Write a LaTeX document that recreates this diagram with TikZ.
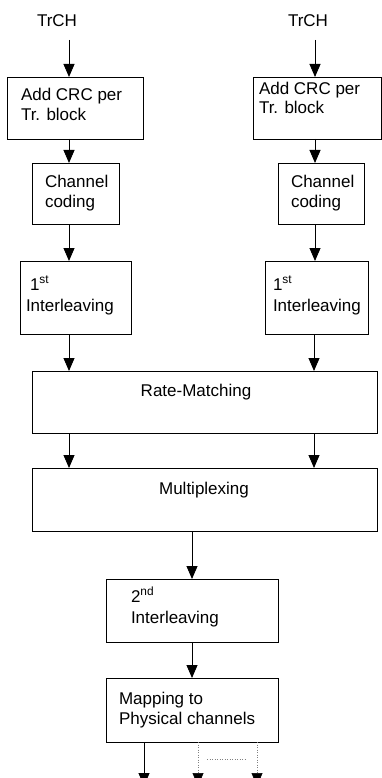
\documentclass[tikz,border=0pt]{standalone}
\usepackage{fontspec}
\setmainfont{Liberation Sans}
\usetikzlibrary{arrows.meta}
\begin{document}
\begin{tikzpicture}[x=1pt,y=-1pt,
  box/.style={draw, line width=0.9pt, rectangle, inner sep=0pt, outer sep=0pt, anchor=north west},
  txt/.style={inner sep=0pt, outer sep=0pt, anchor=base west, font=\fontsize{17}{20}\selectfont},
  ctxt/.style={inner sep=0pt, outer sep=0pt, anchor=base, font=\fontsize{17}{20}\selectfont},
  arr/.style={line width=0.9pt, -{Triangle[length=13pt,width=11pt]}},
  darr/.style={line width=0.5pt, gray, dotted, -{Triangle[length=13pt,width=11pt,color=black]}},
  dline/.style={line width=0.5pt, gray, dotted}]
\useasboundingbox (0,0) rectangle (382,778);
% columns
\coordinate (colL) at (69,0);
\coordinate (colR) at (315,0);
\coordinate (colRb) at (314,0);
\coordinate (colM) at (192,0);
% boxes
\node[box, minimum width=136pt, minimum height=62pt] (b1L) at (7,77) {};
\node[box, minimum width=128pt, minimum height=62pt] (b1R) at (253,77) {};
\node[box, minimum width=87pt, minimum height=61pt] (b2L) at (32,163) {};
\node[box, minimum width=86pt, minimum height=61pt] (b2R) at (278,163) {};
\node[box, minimum width=111pt, minimum height=73pt] (b3L) at (20,261) {};
\node[box, minimum width=103pt, minimum height=73pt] (b3R) at (265,261) {};
\node[box, minimum width=345pt, minimum height=62pt] (rm) at (32,371) {};
\node[box, minimum width=345pt, minimum height=63pt] (mux) at (32,468) {};
\node[box, minimum width=172pt, minimum height=63pt] (il2) at (106,579) {};
\node[box, minimum width=172pt, minimum height=64pt] (map) at (106,678) {};
% texts
\node[txt] (trL) at (37,27) {TrCH};
\node[txt] (trR) at (288,27) {TrCH};
\node[txt] (t1La) at (21,101) {Add CRC per};
\node[txt] (t1Lb) at (21,121) {Tr. block};
\node[txt] (t1Ra) at (259,95) {Add CRC per};
\node[txt] (t1Rb) at (259,114) {Tr. block};
\node[txt] (t2La) at (45,187) {Channel};
\node[txt] (t2Lb) at (45,207) {coding};
\node[txt] (t2Ra) at (291,187) {Channel};
\node[txt] (t2Rb) at (291,207) {coding};
\node[txt] (t3La) at (30,290) {1\textsuperscript{st}};
\node[txt] (t3Lb) at (26,311) {Interleaving};
\node[txt] (t3Ra) at (273,290) {1\textsuperscript{st}};
\node[txt] (t3Rb) at (273,311) {Interleaving};
\node[ctxt] (trm) at (196,396) {Rate-Matching};
\node[ctxt] (tmux) at (204,494) {Multiplexing};
\node[txt] (til2a) at (131,602) {2\textsuperscript{nd}};
\node[txt] (til2b) at (131,623) {Interleaving};
\node[txt] (tmapa) at (119,704) {Mapping to};
\node[txt] (tmapb) at (119,724) {Physical channels};
% free ends
\coordinate (sL) at (69,40);
\coordinate (sR) at (315,40);
\coordinate (e1) at (144,786);
\coordinate (e2) at (198,786);
\coordinate (e3) at (257,786);
\coordinate (d1) at (207,759);
\coordinate (d2) at (246,759);
% connectors
\draw[arr] (sL) -- (b1L.north -| colL);
\draw[arr] (sR) -- (b1R.north -| colR);
\draw[arr] (b1L.south -| colL) -- (b2L.north -| colL);
\draw[arr] (b1R.south -| colR) -- (b2R.north -| colR);
\draw[arr] (b2L.south -| colL) -- (b3L.north -| colL);
\draw[arr] (b2R.south -| colR) -- (b3R.north -| colR);
\draw[arr] (b3L.south -| colL) -- (rm.north -| colL);
\draw[arr] (b3R.south -| colRb) -- (rm.north -| colRb);
\draw[arr] (rm.south -| colL) -- (mux.north -| colL);
\draw[arr] (rm.south -| colRb) -- (mux.north -| colRb);
\draw[arr] (mux.south -| colM) -- (il2.north -| colM);
\draw[arr] (il2.south -| colM) -- (map.north -| colM);
\draw[arr] (map.south -| e1) -- (e1);
\draw[darr] (map.south -| e2) -- (e2);
\draw[darr] (map.south -| e3) -- (e3);
\draw[dline] (d1) -- (d2);
\end{tikzpicture}
\end{document}
